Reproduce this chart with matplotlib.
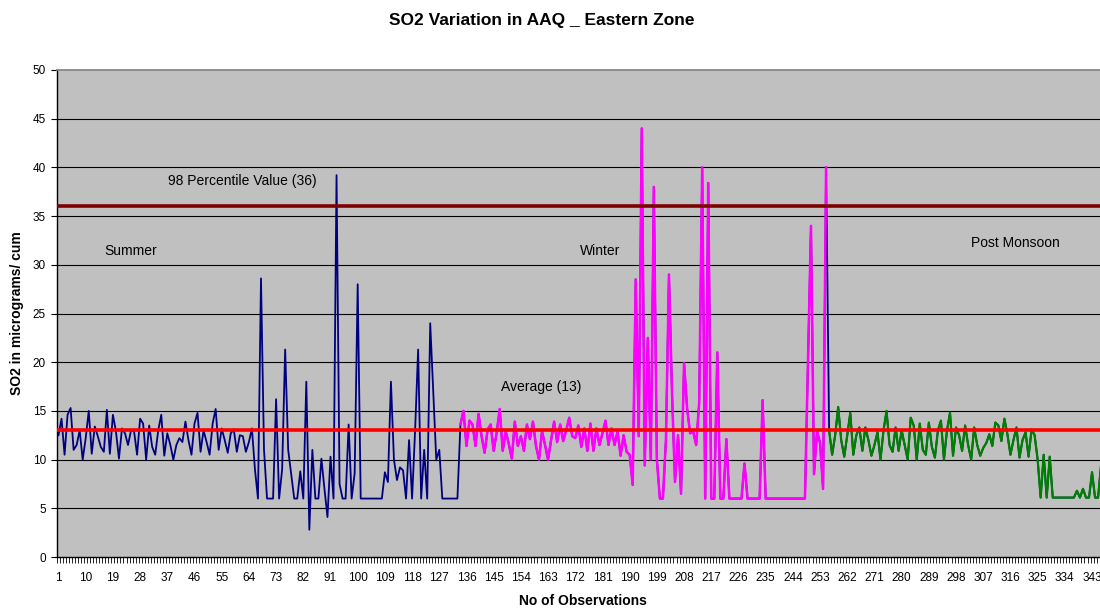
import numpy as np
import matplotlib
matplotlib.use("Agg")
import matplotlib.pyplot as plt
from matplotlib.ticker import FixedLocator, NullFormatter

plt.rcParams['font.family'] = ['Liberation Sans', 'DejaVu Sans']

# ---------------- data ----------------
summer = [
    12.5, 14.2, 10.5, 14.6, 15.3, 11, 11.5, 13, 10, 12.2,
    15, 10.6, 13.4, 12.4, 11.3, 10.8, 15.1, 10.6, 14.6, 12.9,
    10.1, 13.2, 12.7, 11.5, 13, 12.9, 10.5, 14.2, 13.7, 10,
    13.5, 11.3, 10.5, 13, 14.6, 10.4, 12.7, 11.5, 10, 11.5,
    12.2, 11.8, 13.9, 12, 10.5, 13.7, 14.8, 10.8, 13, 11.8,
    10.5, 13.7, 15.2, 11, 13.2, 12, 10.7, 12.7, 13.1, 10.8,
    12.5, 12.4, 10.8, 11.8, 13.2, 9, 6, 28.6, 11, 6,
    6, 6, 16.2, 6, 9, 21.3, 11, 8.5, 6, 6,
    8.8, 6, 18, 2.8, 11, 6, 6, 10.1, 7, 4.1,
    10.3, 6, 39.2, 7.5, 6, 6, 13.6, 6, 8.6, 28,
    6, 6, 6, 6, 6, 6, 6, 6, 8.7, 7.7,
    18, 10, 7.9, 9.2, 8.9, 6, 12, 6, 13, 21.3,
    6, 11, 6, 24, 17, 10, 11, 6, 6, 6,
    6, 6, 6,
]
winter = [
    13.6, 15, 11.4, 14, 13.6, 11.4, 14.7,
    12.4, 10.7, 13.1, 13.6, 10.9, 12.8, 15.2, 10.9, 12.9, 11.6,
    10.1, 13.9, 11.4, 12.4, 10.9, 13.6, 12.1, 13.9, 11.4, 10,
    12.9, 11.5, 10, 12, 13.9, 11.8, 13.6, 11.9, 13, 14.3,
    12.4, 12.2, 13.5, 11.3, 13.2, 10.9, 13.7, 10.9, 13.2, 11.5,
    12.7, 14, 11.5, 13.2, 11.5, 12.9, 10.4, 12.5, 10.8, 10.5,
    7.4, 28.5, 12.4, 44, 9.4, 22.5, 10, 38, 10, 6,
    6, 12, 29, 17, 7.7, 12.5, 6.5, 19.9, 15.3, 12.7,
    12.9, 11.5, 15.8, 40, 6, 38.4, 6, 6, 21, 6,
    6, 12.1, 6, 6, 6, 6, 6, 9.6, 6, 6,
    6, 6, 6, 16.1, 6, 6, 6, 6, 6, 6,
    6, 6, 6, 6, 6, 6, 6, 6, 20, 34,
    8.5, 12.9, 11.7, 7, 40,
]
post_monsoon = [
    13, 10.5, 12.5, 15.4, 12,
    10.3, 12.5, 14.8, 10.5, 12.5, 13.3, 10.9, 13.3, 12, 10.4,
    11.5, 12.8, 10, 13, 15, 11.5, 10.8, 13.3, 10.9, 13,
    11.5, 10, 14.3, 13.5, 10, 13.7, 11, 10.5, 13.8, 11.3,
    10.2, 13, 14, 10, 13, 14.8, 10.4, 13.3, 12.5, 10.9,
    13.5, 11.5, 10, 13.3, 11.5, 10.4, 11.2, 11.7, 12.6, 11.4,
    13.8, 13.5, 11.9, 14.2, 12.6, 10.5, 12, 13.3, 10.2, 12,
    12.8, 10.3, 13.1, 12.5, 10, 6.1, 10.5, 6.1, 10.3, 6.1,
    6.1, 6.1, 6.1, 6.1, 6.1, 6.1, 6.1, 6.8, 6.1, 7,
    6.1, 6.1, 8.7, 6.1, 6.1, 9.5,
]
average_value = 13
percentile_98 = 36
x_tick_labels = list(range(1, 350, 9))
y_ticks = list(range(0, 51, 5))

# ---------------- figure ----------------
all_vals = summer + winter + post_monsoon
n_s, n_w = len(summer), len(winter)
x_all = np.arange(1, len(all_vals) + 1)
x_w = np.arange(n_s + 1, n_s + n_w + 1)
x_p = np.arange(n_s + n_w + 1, len(all_vals) + 1)

fig = plt.figure(figsize=(11, 6.08), dpi=100)
ax = fig.add_axes([57 / 1100, 51 / 608, 1043 / 1100, 487 / 608])
ax.set_facecolor('#C0C0C0')

for y in y_ticks[1:-1]:
    ax.axhline(y, color='black', lw=0.8, zorder=1)

ax.plot(x_all, all_vals, color='#000080', lw=1.3, zorder=2)
ax.plot(x_w, winter, color='#FF00FF', lw=1.8, zorder=3)
ax.plot(x_p, post_monsoon, color='#008000', lw=1.6, zorder=3)
ax.axhline(average_value, color='#FF0000', lw=2.6, zorder=4)
ax.axhline(percentile_98, color='#800000', lw=2.6, zorder=4)

ax.set_xlim(0.5, 0.5 + 1043 / 3.022)
ax.set_ylim(0, 50)

ax.set_yticks(y_ticks)
ax.set_yticklabels([str(v) for v in y_ticks], fontsize=8.5)
ax.tick_params(axis='y', direction='out', length=4, width=0.8, pad=4)

ax.xaxis.set_major_locator(FixedLocator(x_tick_labels))
ax.set_xticklabels([str(v) for v in x_tick_labels], fontsize=8.5)
ax.xaxis.set_minor_locator(FixedLocator(np.arange(0.5, 350, 1)))
ax.xaxis.set_minor_formatter(NullFormatter())
ax.tick_params(axis='x', which='major', length=0, pad=11)
ax.tick_params(axis='x', which='minor', direction='out', length=4, width=0.6)

for s in ['left', 'bottom']:
    ax.spines[s].set_color('black')
    ax.spines[s].set_linewidth(1.0)
ax.spines['top'].set_color('#808080')
ax.spines['top'].set_linewidth(1.2)
ax.spines['right'].set_visible(False)

ax.text(37.3, 38.6, '98 Percentile Value (36)', fontsize=10, va='center', ha='left')
ax.text(16.2, 31.4, 'Summer', fontsize=10, va='center', ha='left')
ax.text(173.6, 31.4, 'Winter', fontsize=10, va='center', ha='left')
ax.text(303.0, 32.2, 'Post Monsoon', fontsize=10, va='center', ha='left')
ax.text(147.5, 17.45, 'Average (13)', fontsize=10, va='center', ha='left')

fig.text(542 / 1100, 1 - 20 / 608, 'SO2 Variation in AAQ _ Eastern Zone',
         fontsize=12.5, fontweight='bold', ha='center', va='center')
fig.text(583 / 1100, 1 - 601 / 608, 'No of Observations',
         fontsize=10, fontweight='bold', ha='center', va='center')
fig.text(17 / 1100, 1 - 313 / 608, 'SO2 in micrograms/ cum',
         fontsize=10, fontweight='bold', ha='center', va='center', rotation=90)

fig.savefig('out.png', dpi=100)
